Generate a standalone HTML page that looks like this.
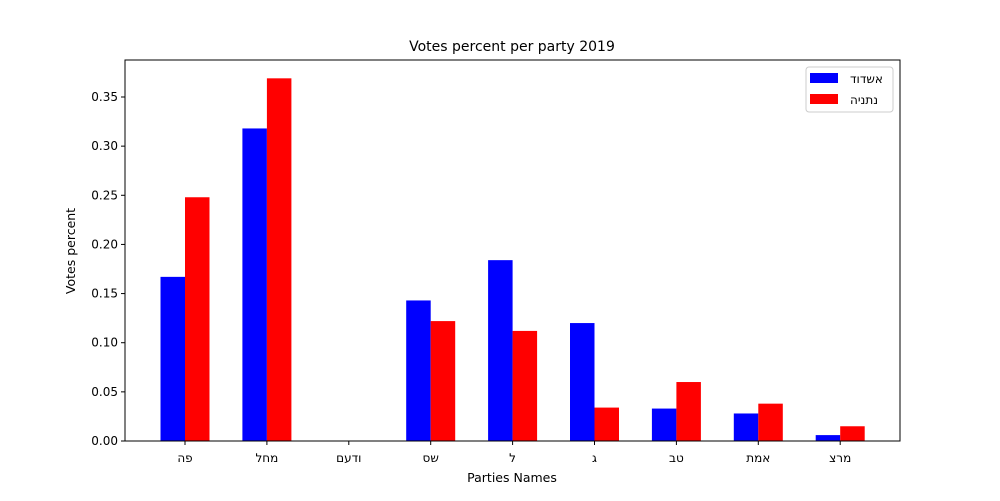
<!DOCTYPE html>
<html><head><meta charset="utf-8"><style>body{margin:0;background:#fff}svg text{font-family:"DejaVu Sans","Liberation Sans",sans-serif;fill:#000}</style></head>
<body>
<svg id="c" width="1000" height="496" xmlns="http://www.w3.org/2000/svg"></svg>
<script>
const categories=["פה","מחל","ודעם","שס","ל","ג","טב","אמת","מרצ"];
const ashdod=[0.167,0.318,0,0.143,0.184,0.120,0.033,0.028,0.006];
const netanya=[0.248,0.369,0,0.122,0.112,0.034,0.060,0.038,0.015];
const yTicks=[0,0.05,0.10,0.15,0.20,0.25,0.30,0.35];
const seriesNames=["אשדוד","נתניה"];
const svg=document.getElementById('c');const NS="http://www.w3.org/2000/svg";
const L=125,R=900,T=60,B=441;
const y=v=>B-v*(B-97)/0.35;
const x=i=>185+i*81.9;
function el(t,a,txt){const e=document.createElementNS(NS,t);for(const k in a)e.setAttribute(k,a[k]);if(txt!==undefined)e.textContent=txt;svg.appendChild(e);return e;}
categories.forEach((c,i)=>{
 const b=el('rect',{x:x(i)-24.5,y:y(ashdod[i]),width:24.5,height:B-y(ashdod[i]),fill:'#0000ff'});
 
 
 const r=el('rect',{x:x(i),y:y(netanya[i]),width:24.5,height:B-y(netanya[i]),fill:'#ff0000'});
 
 
 el('line',{x1:x(i),x2:x(i),y1:B,y2:B+4,stroke:'#000'});
 const t=el('text',{x:x(i),y:B+21,'text-anchor':'middle','font-size':12},c);
 
 
});
yTicks.forEach(v=>{
 el('line',{x1:L-4,x2:L,y1:y(v),y2:y(v),stroke:'#000'});
 const t=el('text',{x:L-7,y:y(v)+4,'text-anchor':'end','font-size':12},v.toFixed(2));
 
 
});
const f=el('rect',{x:L,y:T,width:R-L,height:B-T,fill:'none',stroke:'#000'});


const ti=el('text',{x:512,y:51,'text-anchor':'middle','font-size':14},'Votes percent per party 2019');


const xt=el('text',{x:512,y:482,'text-anchor':'middle','font-size':12.5},'Parties Names');


const yt=el('text',{x:75,y:251,'text-anchor':'middle','font-size':12.5,transform:'rotate(-90 75 251)'},'Votes percent');


const lg=el('rect',{x:806,y:67,width:87,height:45,fill:'#fff',stroke:'#ccc',rx:3});


['#0000ff','#ff0000'].forEach((col,k)=>{
 el('rect',{x:810,y:73+k*21,width:28,height:10,fill:col});
 const t=el('text',{x:850,y:83+k*21,'font-size':12},seriesNames[k]);
 
 
});
</script>
</body></html>
